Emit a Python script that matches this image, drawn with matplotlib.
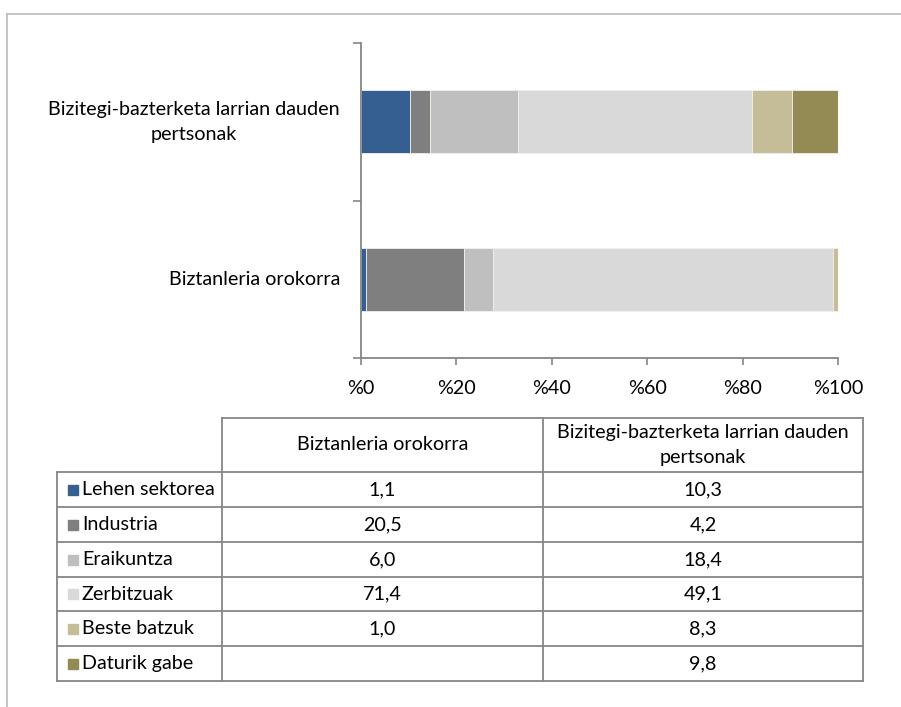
import matplotlib
matplotlib.use("Agg")
import matplotlib.pyplot as plt
from matplotlib.patches import Rectangle
from matplotlib.lines import Line2D

plt.rcParams['font.family'] = ['Lato', 'DejaVu Sans']

# ---- data ----
categories = ["Biztanleria orokorra", "Bizitegi-bazterketa larrian dauden\npertsonak"]
table_headers = ["Biztanleria orokorra", "Bizitegi-bazterketa larrian dauden\npertsonak"]
series_names = ["Lehen sektorea", "Industria", "Eraikuntza", "Zerbitzuak", "Beste batzuk", "Daturik gabe"]
general_pop = [1.1, 20.5, 6.0, 71.4, 1.0, None]
excluded_pop = [10.3, 4.2, 18.4, 49.1, 8.3, 9.8]
series_colors = ["#355F91", "#7F7F7F", "#BFBFBF", "#D9D9D9", "#C4BD97", "#948A54"]
xticks = [0, 20, 40, 60, 80, 100]
xtick_labels = ["%0", "%20", "%40", "%60", "%80", "%100"]

W, H = 901, 707
fig = plt.figure(figsize=(W / 100, H / 100), dpi=100)

FS = 14.2
LS = 1.6
TXT = "#000000"
AX_COL = "#868686"

# full-figure overlay axes in pixel coords
ov = fig.add_axes([0, 0, 1, 1])
ov.set_xlim(0, W)
ov.set_ylim(H, 0)
ov.axis("off")
ov.add_line(Line2D([6.5, 6.5], [13.5, 707], color="#BFBFBF", lw=1.3))
ov.add_line(Line2D([6.5, 901], [13.5, 13.5], color="#BFBFBF", lw=1.3))

# ---- bar chart ----
ax_l, ax_r, ax_t, ax_b = 361, 838, 43, 358
ax = fig.add_axes([ax_l / W, 1 - ax_b / H, (ax_r - ax_l) / W, (ax_b - ax_t) / H])
ax.set_xlim(0, 100)
ax.set_ylim(-0.5, 1.5)

datasets = [general_pop, excluded_pop]
for yi, data in enumerate(datasets):
    left = 0.0
    for si, v in enumerate(data):
        if v is None:
            continue
        ax.barh(yi, v, left=left, height=0.4, color=series_colors[si],
                edgecolor="#F0F0F0", linewidth=0.6)
        left += v

for s in ["top", "right"]:
    ax.spines[s].set_visible(False)
for s in ["left", "bottom"]:
    ax.spines[s].set_color(AX_COL)
    ax.spines[s].set_linewidth(1.3)

ax.set_xticks(xticks)
ax.set_xticklabels(xtick_labels, fontsize=FS, color=TXT)
ax.tick_params(axis="x", direction="out", length=5, width=1.2, color=AX_COL, pad=11)
ax.set_yticks([-0.5, 0.5, 1.5])
ax.set_yticklabels([])
ax.tick_params(axis="y", direction="out", length=6, width=1.2, color=AX_COL)

# category labels (right edge at ~340 px)
label_right_px = 340
for yi, c in enumerate(categories):
    ax.text(-(ax_l - label_right_px) / (ax_r - ax_l) * 100, yi, c,
            ha="right", va="center", multialignment="center", fontsize=FS,
            color=TXT, linespacing=LS, clip_on=False)

# ---- data table ----
col_x = [57, 222, 543, 863]
row_y = [418, 472, 507, 542, 577, 611, 646, 681]
grid = "#868686"
lw = 1.3
ov.add_line(Line2D([col_x[1], col_x[3]], [row_y[0], row_y[0]], color=grid, lw=lw))
for x in col_x[1:]:
    ov.add_line(Line2D([x, x], [row_y[0], row_y[-1]], color=grid, lw=lw))
ov.add_line(Line2D([col_x[0], col_x[0]], [row_y[1], row_y[-1]], color=grid, lw=lw))
for y in row_y[1:]:
    ov.add_line(Line2D([col_x[0], col_x[3]], [y, y], color=grid, lw=lw))

for ci, htxt in enumerate(table_headers):
    cx = (col_x[ci + 1] + col_x[ci + 2]) / 2
    ov.text(cx, (row_y[0] + row_y[1]) / 2, htxt, ha="center", va="center",
            fontsize=FS, color=TXT, linespacing=LS)

def fmt(v):
    return "" if v is None else f"{v:.1f}".replace(".", ",")

for ri, name in enumerate(series_names):
    yc = (row_y[ri + 1] + row_y[ri + 2]) / 2
    ov.add_patch(Rectangle((col_x[0] + 11, yc - 5), 10, 10, color=series_colors[ri]))
    ov.text(col_x[0] + 25, yc, name, ha="left", va="center", fontsize=FS, color=TXT)
    for ci, data in enumerate(datasets):
        cx = (col_x[ci + 1] + col_x[ci + 2]) / 2
        ov.text(cx, yc, fmt(data[ri]), ha="center", va="center", fontsize=FS, color=TXT)

fig.savefig("out.png", dpi=100, facecolor="white")
